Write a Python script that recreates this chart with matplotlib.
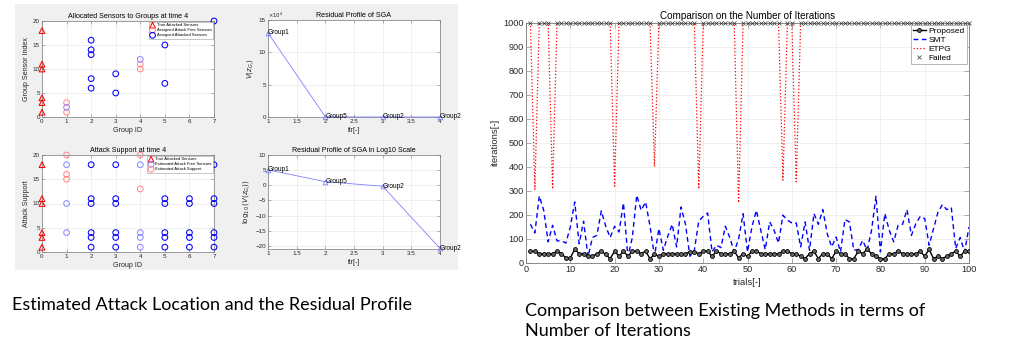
import matplotlib
matplotlib.use('Agg')
import matplotlib.pyplot as plt
from matplotlib.patches import Rectangle
from matplotlib.ticker import FuncFormatter
import numpy as np

W, H = 1024, 356
plt.rcParams['font.family'] = ['Liberation Sans', 'DejaVu Sans']

# ---------------- data: left figure ----------------
group_ticks = [0, 1, 2, 3, 4, 5, 6, 7]
faded_groups = [1, 4]

true_attacked = [1, 3, 4, 10, 11, 18]

alloc_free_group = [1, 1, 4, 4]
alloc_free_index = [1, 3, 10, 11]
alloc_att_group = [1, 2, 2, 2, 2, 2, 3, 3, 4, 5, 5, 5, 7]
alloc_att_index = [2, 6, 8, 13, 14, 16, 5, 9, 12, 7, 15, 19, 20]

est_free_group = [1, 1, 1,
                  2, 2, 2, 2, 2, 2,
                  3, 3, 3, 3, 3, 3,
                  4, 4, 4, 4,
                  5, 5, 5, 5, 5, 5,
                  6, 6, 6, 6, 6, 6,
                  7, 7, 7, 7, 7, 7]
est_free_support = [4, 10, 18,
                    1, 3, 4, 10, 11, 18,
                    1, 3, 4, 10, 11, 18,
                    1, 3, 4, 18,
                    1, 3, 4, 10, 11, 18,
                    1, 3, 4, 10, 11, 18,
                    1, 3, 4, 10, 11, 18]
est_att_group = [1, 1, 1, 4, 4]
est_att_support = [15, 16, 20, 13, 20]

sga_itr = [1, 2, 3, 4]
sga_residual = [13.0e4, 0.02e4, 0.0e4, 0.0e4]
sga_log_residual = [5.1, 1.2, -0.3, -20.8]
sga_groups = ['Group1', 'Group5', 'Group2', 'Group2']

# ---------------- data: right figure ----------------
trials = list(range(1, 101))
proposed = [49, 49, 39, 39, 39, 39, 49, 39, 21, 21,
            57, 39, 39, 28, 28, 39, 49, 36, 18, 49,
            28, 49, 28, 49, 49, 39, 49, 18, 36, 28,
            39, 39, 39, 39, 39, 39, 46, 46, 39, 49,
            49, 28, 49, 39, 39, 39, 49, 21, 39, 28,
            49, 49, 39, 39, 39, 39, 39, 49, 49, 39,
            39, 28, 18, 39, 49, 18, 39, 39, 18, 49,
            39, 39, 18, 18, 49, 39, 57, 39, 28, 18,
            18, 39, 39, 49, 39, 39, 39, 39, 49, 28,
            57, 18, 28, 18, 28, 39, 49, 28, 49, 49]
smt = [161, 125, 279, 219, 88, 157, 92, 92, 83, 150,
       254, 80, 174, 25, 106, 115, 217, 153, 106, 153,
       129, 250, 25, 106, 282, 219, 254, 153, 28, 143,
       53, 111, 161, 67, 233, 161, 28, 53, 175, 194,
       208, 46, 74, 64, 153, 106, 46, 101, 205, 46,
       150, 219, 136, 56, 171, 136, 83, 199, 178, 167,
       167, 67, 171, 53, 206, 161, 222, 122, 67, 108,
       46, 181, 171, 53, 56, 94, 53, 136, 278, 46,
       206, 136, 88, 157, 161, 222, 115, 164, 194, 185,
       74, 143, 212, 243, 222, 231, 60, 106, 46, 150]
etpg = [1000, 306, 1000, 1000, 1000, 308, 1000, 1000, 1000, 1000,
        1000, 1000, 1000, 1000, 1000, 1000, 1000, 1000, 1000, 320,
        1000, 1000, 1000, 1000, 1000, 1000, 1000, 1000, 401, 1000,
        1000, 1000, 1000, 1000, 1000, 1000, 1000, 1000, 308, 1000,
        1000, 1000, 1000, 1000, 1000, 1000, 1000, 251, 1000, 1000,
        1000, 1000, 1000, 1000, 1000, 1000, 1000, 345, 1000, 1000,
        338, 1000, 1000, 1000, 1000, 1000, 1000, 1000, 1000, 1000,
        1000, 1000, 1000, 1000, 1000, 1000, 1000, 1000, 1000, 1000,
        1000, 1000, 1000, 1000, 1000, 1000, 1000, 1000, 1000, 1000,
        1000, 1000, 1000, 1000, 1000, 1000, 1000, 1000, 1000, 1000]
max_iter = 1000

caption_left = 'Estimated Attack Location and the Residual Profile'
caption_right = 'Comparison between Existing Methods in terms of\nNumber of Iterations'

# ---------------- figure ----------------
fig = plt.figure(figsize=(W / 100, H / 100), dpi=100)
fig.patch.set_facecolor('white')


def add_ax(l, t, r, b):
    return fig.add_axes([l / W, 1 - b / H, (r - l) / W, (b - t) / H])


bg = Rectangle((15 / W, 1 - 270 / H), (458 - 15) / W, (270 - 4) / H,
               transform=fig.transFigure, facecolor='#f0f0f0',
               edgecolor='none', zorder=-10)
fig.patches.append(bg)

TXT = '#262626'
RED = (1, 0, 0)
BLUE = (0, 0, 1)
RED_F = (1, 0.55, 0.55)
BLUE_F = (0.55, 0.55, 1)


def matlab_style(ax, fs, lw=0.5):
    ax.set_facecolor('white')
    ax.grid(True, color='#e3e3e3', lw=0.4)
    ax.set_axisbelow(True)
    for s in ax.spines.values():
        s.set_color('#7a7a7a')
        s.set_linewidth(lw)
    ax.tick_params(direction='in', length=2, width=0.4, colors='#7a7a7a',
                   labelcolor=TXT, labelsize=fs, top=True, right=True, pad=1.5)


def circle_colors(groups, base, faded):
    return [faded if g in faded_groups else base for g in groups]


LFS = 4.5
TFS = 5.1
MS = 17
MLW = 0.75

# ---- top-left ----
ax1 = add_ax(42, 21, 214, 117)
matlab_style(ax1, LFS)
ax1.scatter([0] * len(true_attacked), true_attacked, marker='^', s=MS,
            facecolors='none', edgecolors=[RED], linewidths=MLW,
            label='True Attacked Sensors', zorder=3, clip_on=False)
ax1.scatter(alloc_free_group, alloc_free_index, marker='o', s=MS, facecolors='none',
            edgecolors=circle_colors(alloc_free_group, RED, RED_F), linewidths=MLW,
            label='Assigned Attack Free Sensors', zorder=3, clip_on=False)
ax1.scatter(alloc_att_group, alloc_att_index, marker='o', s=MS, facecolors='none',
            edgecolors=circle_colors(alloc_att_group, BLUE, BLUE_F), linewidths=MLW,
            label='Assigned Attacked Sensors', zorder=3, clip_on=False)
ax1.set_xlim(0, 7)
ax1.set_ylim(0, 20)
ax1.set_xticks(group_ticks)
ax1.set_yticks([0, 5, 10, 15, 20])
ax1.set_title('Allocated Sensors to Groups at time 4', fontsize=TFS, color='black', pad=2.5)
ax1.set_xlabel('Group ID', fontsize=TFS, color=TXT, labelpad=2)
ax1.set_ylabel('Group Sensor Index', fontsize=TFS, color=TXT, labelpad=2)
leg = ax1.legend(loc='upper right', fontsize=3.0, framealpha=1, fancybox=False,
                 edgecolor='#9a9a9a', borderaxespad=0.25, handletextpad=0.4,
                 labelspacing=0.25, borderpad=0.3, handlelength=1.2)
leg.get_frame().set_linewidth(0.4)
leg.legend_handles[0].set_edgecolor([RED])
leg.legend_handles[1].set_edgecolor([RED_F])
leg.legend_handles[2].set_edgecolor([BLUE])
leg.set_zorder(10)

# ---- bottom-left ----
ax3 = add_ax(42, 155, 214, 252)
matlab_style(ax3, LFS)
ax3.scatter([0] * len(true_attacked), true_attacked, marker='^', s=MS,
            facecolors='none', edgecolors=[RED], linewidths=MLW,
            label='True Attacked Sensors', zorder=3, clip_on=False)
ax3.scatter(est_free_group, est_free_support, marker='o', s=MS, facecolors='none',
            edgecolors=circle_colors(est_free_group, BLUE, BLUE_F), linewidths=MLW,
            label='Estimated Attack Free Sensors', zorder=3, clip_on=False)
ax3.scatter(est_att_group, est_att_support, marker='o', s=MS, facecolors='none',
            edgecolors=circle_colors(est_att_group, RED, RED_F), linewidths=MLW,
            label='Estimated Attack Support', zorder=3, clip_on=False)
ax3.set_xlim(0, 7)
ax3.set_ylim(0, 20)
ax3.set_xticks(group_ticks)
ax3.set_yticks([0, 5, 10, 15, 20])
ax3.set_title('Attack Support at time 4', fontsize=TFS, color='black', pad=2.5)
ax3.set_xlabel('Group ID', fontsize=TFS, color=TXT, labelpad=2)
ax3.set_ylabel('Attack Support', fontsize=TFS, color=TXT, labelpad=2)
leg3 = ax3.legend(loc='upper right', fontsize=3.0, framealpha=1, fancybox=False,
                  edgecolor='#9a9a9a', borderaxespad=0.25, handletextpad=0.4,
                  labelspacing=0.25, borderpad=0.3, handlelength=1.2)
leg3.get_frame().set_linewidth(0.4)
leg3.legend_handles[0].set_edgecolor([RED])
leg3.legend_handles[1].set_edgecolor([BLUE_F])
leg3.legend_handles[2].set_edgecolor([RED_F])
leg3.set_zorder(10)

# ---- top-right ----
ax2 = add_ax(268, 20, 440, 117)
matlab_style(ax2, LFS)
ax2.plot(sga_itr, sga_residual, '-^', color=(0.5, 0.5, 1), lw=0.6, ms=3.4,
         mfc='none', mew=0.6, clip_on=False, zorder=3)
for x, y, g in zip(sga_itr, sga_residual, sga_groups):
    ax2.text(x, y, g, fontsize=4.7, va='center', ha='left', color='black', clip_on=False)
ax2.set_xlim(1, 4)
ax2.set_ylim(0, 15e4)
ax2.set_xticks([1, 1.5, 2, 2.5, 3, 3.5, 4])
ax2.set_xticklabels(['1', '1.5', '2', '2.5', '3', '3.5', '4'])
ax2.set_yticks([0, 5e4, 10e4, 15e4])
ax2.yaxis.set_major_formatter(FuncFormatter(lambda v, p: f'{v / 1e4:g}'))
ax2.text(0.0, 1.005, r'$\times10^4$', transform=ax2.transAxes, fontsize=3.8,
         color=TXT, va='bottom', ha='left')
ax2.set_title('Residual Profile of SGA', fontsize=TFS, color='black', pad=2.5)
ax2.set_xlabel('itr[-]', fontsize=TFS, color=TXT, labelpad=2)
ax2.set_ylabel(r'$V(z_{G_i})$', fontsize=TFS, color=TXT, labelpad=1.5)

# ---- bottom-right ----
ax4 = add_ax(268, 155, 440, 249)
matlab_style(ax4, LFS)
ax4.plot(sga_itr, sga_log_residual, '-^', color=(0.5, 0.5, 1), lw=0.6, ms=3.4,
         mfc='none', mew=0.6, clip_on=False, zorder=3)
for x, y, g in zip(sga_itr, sga_log_residual, sga_groups):
    ax4.text(x, y, g, fontsize=4.7, va='center', ha='left', color='black', clip_on=False)
ax4.set_xlim(1, 4)
ax4.set_ylim(-21, 10)
ax4.set_xticks([1, 1.5, 2, 2.5, 3, 3.5, 4])
ax4.set_xticklabels(['1', '1.5', '2', '2.5', '3', '3.5', '4'])
ax4.set_yticks([-20, -15, -10, -5, 0, 5, 10])
ax4.set_title('Residual Profile of SGA in Log10 Scale', fontsize=TFS, color='black', pad=2.5)
ax4.set_xlabel('itr[-]', fontsize=TFS, color=TXT, labelpad=2)
ax4.set_ylabel(r'$\log_{10}(V(z_{G_i}))$', fontsize=TFS, color=TXT, labelpad=1.5)

# ---- right chart ----
ax5 = add_ax(526, 22.7, 969, 263)
matlab_style(ax5, 6.6, lw=0.6)
ax5.tick_params(length=3.5)
t = np.array(trials)
et = np.array(etpg)
failed = et >= max_iter
ax5.plot(t, proposed, '-o', color='black', lw=1.0, ms=2.8, mfc='#666666',
         mec='black', mew=0.6, label='Proposed', zorder=4)
ax5.plot(t, smt, '--', color='blue', lw=1.0, dashes=(3.5, 2.5), label='SMT', zorder=3)
ax5.plot(t, etpg, ':', color='red', lw=0.9, label='ETPG', zorder=2)
ax5.plot(t[failed], et[failed], 'x', color='#333333', ms=2.6, mew=0.5,
         linestyle='none', label='Failed', zorder=5, clip_on=False)
ax5.set_xlim(0, 100)
ax5.set_ylim(0, 1000)
ax5.set_xticks(range(0, 101, 10))
ax5.set_yticks(range(0, 1001, 100))
ax5.set_title('Comparison on the Number of Iterations', fontsize=7.1, color='black', pad=3)
ax5.set_xlabel('trials[-]', fontsize=6.8, color=TXT, labelpad=3)
ax5.set_ylabel('iterations[-]', fontsize=6.8, color=TXT, labelpad=3)
leg5 = ax5.legend(loc='upper right', fontsize=6.0, framealpha=1, fancybox=False,
                  edgecolor='#9a9a9a', borderaxespad=0.3, handletextpad=0.3,
                  labelspacing=0.15, borderpad=0.25, handlelength=1.5)
leg5.get_frame().set_linewidth(0.5)
leg5.set_zorder(10)

# ---- captions ----
fig.text(12 / W, 1 - 305 / H, caption_left, fontsize=13, family=['Lato', 'DejaVu Sans'],
         color='black', va='center', ha='left')
fig.text(525 / W, 1 - 321 / H, caption_right, fontsize=13, family=['Lato', 'DejaVu Sans'],
         color='black', va='center', ha='left', linespacing=1.25)

fig.savefig('out.png', dpi=100, facecolor='white')
